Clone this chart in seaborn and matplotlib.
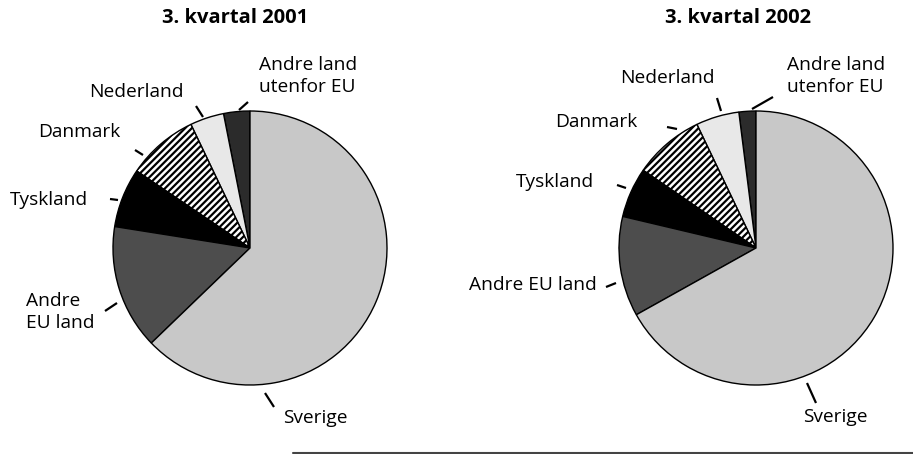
import matplotlib
matplotlib.use("Agg")
import matplotlib.pyplot as plt
import seaborn as sns
from matplotlib.lines import Line2D

sns.set_theme(style="white")
plt.rcParams['font.family'] = ['Open Sans', 'DejaVu Sans']
plt.rcParams['hatch.linewidth'] = 1.6
plt.rcParams['text.color'] = 'black'

# data (share of total, %), in drawing order counter-clockwise from 12 o'clock
categories = ["Andre land\nutenfor EU", "Nederland", "Danmark", "Tyskland",
              "Andre EU land", "Sverige"]
titles = ["3. kvartal 2001", "3. kvartal 2002"]
share_2001 = [3.1, 4.0, 8.4, 7.0, 14.7, 62.8]
share_2002 = [2.0, 5.1, 8.3, 5.9, 11.8, 66.9]

# styles per category
fills = ["#2b2b2b", "#e8e8e8", "white", "black", "#4d4d4d", "#c8c8c8"]
hatches = [None, None, "/////", None, None, None]

# layout (pixel coords, origin top-left)
W, H = 913, 454
centers = [(250, 248), (756, 248)]
radius = 137
title_pos = [(235, 18), (738, 18)]
label_text = [
    ["Andre land\nutenfor EU", "Nederland", "Danmark", "Tyskland",
     "Andre\nEU land", "Sverige"],
    ["Andre land\nutenfor EU", "Nederland", "Danmark", "Tyskland",
     "Andre EU land", "Sverige"],
]
label_pos = [
    [(259, 76, "left"), (184, 92, "right"), (120, 132, "right"),
     (88, 200, "right"), (26, 312, "left"), (283, 418, "left")],
    [(787, 76, "left"), (715, 78, "right"), (637, 122, "right"),
     (594, 182, "right"), (597, 285, "right"), (803, 417, "left")],
]
leader = [
    [((239, 110), (248, 102)), ((196, 106), (203, 117)), ((135, 150), (143, 155)),
     ((110, 199), (118, 200)), ((105, 311), (117, 303)), ((265, 393), (274, 407))],
    [((752, 109), (773, 97)), ((717, 98), (721, 111)), ((667, 127), (677, 129)),
     ((617, 185), (626, 188)), ((606, 287), (616, 283)), ((807, 383), (816, 403))],
]

fig = plt.figure(figsize=(W / 100, H / 100), dpi=100)
ax = fig.add_axes([0, 0, 1, 1])

for k, values in enumerate([share_2001, share_2002]):
    cx, cy = centers[k]
    wedges, _ = ax.pie(values, startangle=90, counterclock=True,
                       center=(cx, H - cy), radius=radius, colors=fills,
                       hatch=hatches, frame=True,
                       wedgeprops=dict(edgecolor="black", linewidth=1.0))
    tx, ty = title_pos[k]
    ax.text(tx, H - ty, titles[k], ha="center", va="center",
            fontsize=14.5, fontweight="bold")
    for (x, y, ha), txt in zip(label_pos[k], label_text[k]):
        ax.text(x, H - y, txt, ha=ha, va="center", fontsize=13.8,
                linespacing=1.25)
    for (x0, y0), (x1, y1) in leader[k]:
        ax.plot([x0, x1], [H - y0, H - y1], color="black", lw=1.6,
                solid_capstyle="butt")

ax.set_xlim(0, W)
ax.set_ylim(0, H)
ax.set_aspect("equal")
ax.axis("off")

# rule along the bottom edge
fig.add_artist(Line2D([293 / W, 1], [1 / H, 1 / H], color="#444444", lw=1.5))

fig.savefig("out.png", dpi=100)
